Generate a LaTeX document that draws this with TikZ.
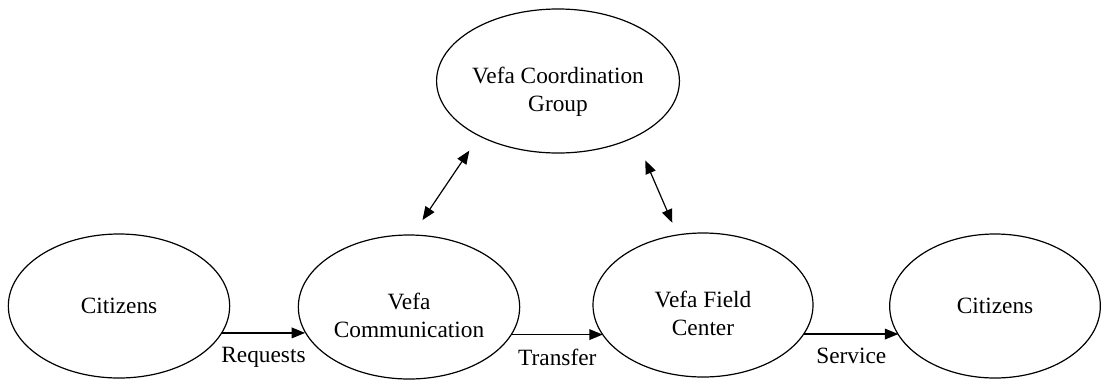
\documentclass[tikz,border=0pt]{standalone}
\usepackage{fontspec}
\setmainfont{Liberation Serif}
\usetikzlibrary{shapes.geometric,arrows.meta}

\newcommand\lowtext[1]{\raisebox{-8pt}[\height][\depth]{\begin{tabular}{@{}c@{}}#1\end{tabular}}}

\begin{document}
\begin{tikzpicture}[x=0.75pt,y=-0.75pt,
  font=\fontsize{17.5}{21}\selectfont,
  oval/.style={draw, ellipse, line width=0.9pt, inner sep=0pt, minimum width=166pt, minimum height=108pt},
  link/.style={line width=0.9pt, -{Triangle[length=10pt,width=8pt]}},
  both/.style={line width=0.9pt, {Triangle[length=10pt,width=8pt]}-{Triangle[length=10pt,width=8pt]}}]

\useasboundingbox (0,0) rectangle (1106,383);

\node[oval] (cit1) at (119,306) {Citizens};
\node[oval] (comm) at (409,307) {\lowtext{Vefa\\Communication}};
\node[oval, minimum width=165pt] (field) at (703,305) {\lowtext{Vefa Field\\Center}};
\node[oval, minimum width=158pt] (cit2) at (995,306) {Citizens};
\node[oval, minimum width=165pt] (coord) at (558,81) {\lowtext{Vefa Coordination\\Group}};

\draw[link] (cit1.-15 |- comm.194) -- node[below=7pt] (req) {Requests} (comm.194);
\draw[link] (comm.-15) -- node[below=7pt] (tra) {Transfer} (field.197 |- comm.-15);
\draw[link] (field.-16) -- node[below=7pt] (ser) {Service} (cit2.197 |- field.-16);

\draw[both, shorten <=13pt, shorten >=13pt] (comm.87) -- (coord.215);
\draw[both, shorten <=9.5pt, shorten >=19pt] (field.110) -- (coord.-36);

\end{tikzpicture}
\end{document}
